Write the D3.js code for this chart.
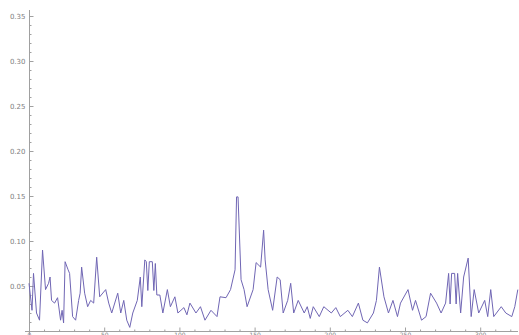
<!DOCTYPE html>
<html>
<head>
<meta charset="utf-8">
<script src="https://cdn.jsdelivr.net/npm/d3@7"></script>
<style>
  html, body { margin: 0; padding: 0; background: #fff; }
  svg { display: block; }
</style>
</head>
<body>
<svg id="chart" width="519" height="335"></svg>
<script>
// Sample positions and measured values of the series
const steps = [0,2,3,5,7,9,11,13,14,15,17,19,21,22,23,24,26,27,29,31,33,34,35,37,39,41,43,45,47,51,53,55,59,61,63,65,67,69,72,74,75,77,78,79,80,82,83,84,85,87,89,92,94,97,99,103,105,107,111,114,117,121,125,127,131,134,137,138,139,141,143,145,149,151,154,156,157,159,162,165,167,169,172,174,176,179,183,185,187,189,193,196,201,204,207,212,215,219,222,225,229,231,233,236,239,242,245,247,252,255,257,261,264,267,271,274,277,279,280,281,283,284,285,287,289,292,294,296,299,303,305,307,309,314,317,321,323,325];
const values = [0.053,0.023,0.064,0.020,0.012,0.090,0.046,0.053,0.060,0.034,0.031,0.037,0.012,0.023,0.009,0.077,0.068,0.064,0.016,0.012,0.034,0.042,0.071,0.042,0.027,0.034,0.031,0.082,0.038,0.046,0.031,0.020,0.042,0.020,0.034,0.012,0.004,0.020,0.034,0.060,0.027,0.079,0.077,0.045,0.077,0.077,0.045,0.075,0.040,0.040,0.020,0.046,0.027,0.038,0.020,0.026,0.018,0.031,0.020,0.027,0.012,0.023,0.016,0.038,0.037,0.046,0.068,0.149,0.149,0.057,0.046,0.027,0.046,0.076,0.071,0.112,0.079,0.046,0.023,0.060,0.057,0.020,0.034,0.053,0.020,0.034,0.020,0.027,0.014,0.027,0.016,0.027,0.020,0.026,0.016,0.023,0.016,0.031,0.012,0.009,0.020,0.034,0.071,0.038,0.020,0.034,0.016,0.031,0.046,0.023,0.034,0.012,0.016,0.042,0.031,0.020,0.031,0.064,0.030,0.064,0.064,0.030,0.064,0.020,0.060,0.081,0.016,0.046,0.020,0.034,0.016,0.046,0.016,0.027,0.020,0.016,0.027,0.046];

// Axis ticks
const xMajorTicks = [0, 50, 100, 150, 200, 250, 300];
const xTickLabels = ["0", "50", "100", "150", "200", "250", "300"];
const yMajorTicks = [0.05, 0.10, 0.15, 0.20, 0.25, 0.30, 0.35];
const yTickLabels = ["0.05", "0.10", "0.15", "0.20", "0.25", "0.30", "0.35"];

const svg = d3.select("#chart");
const x0 = 29, xEnd = 517, yBase = 331, yTop = 10;

const x = d3.scaleLinear().domain([0, 50]).range([x0, x0 + 75.2]);
const y = d3.scaleLinear().domain([0, 0.05]).range([yBase, yBase - 45]);

const axisColor = "#a0a0a0";
const textColor = "#808080";

// x axis
svg.append("line")
  .attr("x1", x0 - 4).attr("x2", xEnd + 1)
  .attr("y1", yBase + 0.5).attr("y2", yBase + 0.5)
  .attr("stroke", axisColor).attr("stroke-width", 1);

const xMinor = d3.range(0, 330, 10).filter(t => !xMajorTicks.includes(t));
const gx = svg.append("g").attr("transform", `translate(0,${yBase + 0.5})`)
  .call(d3.axisBottom(x).tickValues(xMajorTicks).tickSize(-4)
    .tickFormat((d, i) => xTickLabels[i]));
gx.select(".domain").remove();
gx.selectAll("line").attr("stroke", axisColor);
gx.selectAll("text").attr("fill", textColor).attr("font-size", 6)
  .attr("font-family", "DejaVu Sans").attr("y", 1.5);

const gxm = svg.append("g").attr("transform", `translate(0,${yBase + 0.5})`)
  .call(d3.axisBottom(x).tickValues(xMinor).tickSize(-2).tickFormat(""));
gxm.select(".domain").remove();
gxm.selectAll("line").attr("stroke", axisColor);

// y axis
svg.append("line")
  .attr("x1", x0 + 0.5).attr("x2", x0 + 0.5)
  .attr("y1", yTop).attr("y2", yBase + 4)
  .attr("stroke", axisColor).attr("stroke-width", 1);

const yMinor = d3.range(0.01, 0.36, 0.01).filter(v => !yMajorTicks.some(m => Math.abs(m - v) < 1e-6));
const gy = svg.append("g").attr("transform", `translate(${x0 + 0.5},0)`)
  .call(d3.axisLeft(y).tickValues(yMajorTicks).tickSize(-4)
    .tickFormat((d, i) => yTickLabels[i]));
gy.select(".domain").remove();
gy.selectAll("line").attr("stroke", axisColor);
gy.selectAll("text").attr("fill", textColor).attr("font-size", 7)
  .attr("font-family", "DejaVu Sans").attr("x", -4);

const gym = svg.append("g").attr("transform", `translate(${x0 + 0.5},0)`)
  .call(d3.axisLeft(y).tickValues(yMinor).tickSize(-2).tickFormat(""));
gym.select(".domain").remove();
gym.selectAll("line").attr("stroke", axisColor);

// data line
const line = d3.line()
  .x((d, i) => x(steps[i]))
  .y(d => y(d));

svg.append("path")
  .datum(values)
  .attr("d", line)
  .attr("fill", "none")
  .attr("stroke", "#7066b4")
  .attr("stroke-width", 1)
  .attr("stroke-linejoin", "round");
</script>
</body>
</html>
